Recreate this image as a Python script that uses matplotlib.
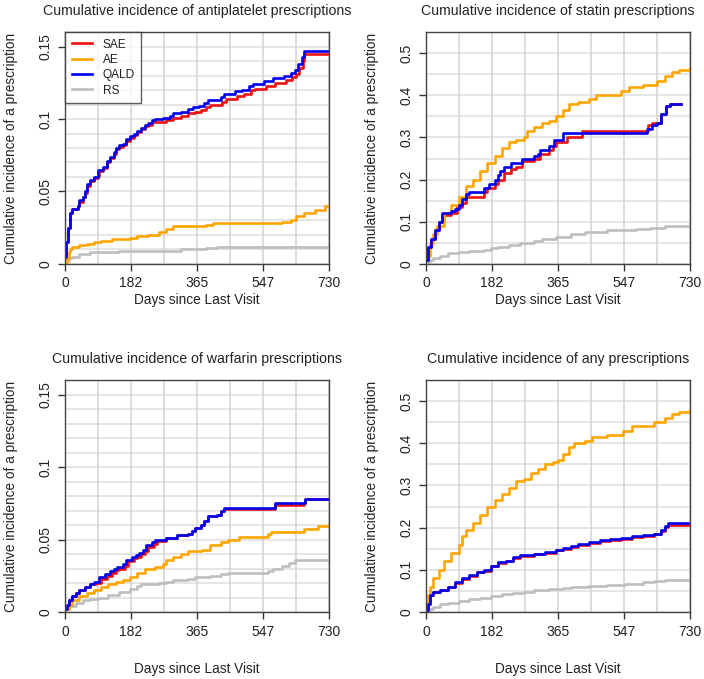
import numpy as np
import matplotlib.pyplot as plt

plt.rcParams['font.family'] = ['Liberation Sans', 'DejaVu Sans']

groups = ['SAE', 'AE', 'QALD', 'RS']
colors = {'SAE': '#ee1111', 'AE': '#ffa500', 'QALD': '#0000ee', 'RS': '#bebebe'}
xticks = [0, 182, 365, 547, 730]

# antiplatelet
ap_qald_t = [0, 3, 8, 14, 20, 35, 40, 50, 55, 62, 70, 80, 90, 92, 105, 115, 125, 135, 140, 150, 160, 170,
             180, 190, 200, 210, 220, 230, 240, 250, 270, 290, 300, 320, 340, 355, 370, 385, 395, 430, 440,
             470, 490, 510, 520, 550, 575, 605, 625, 635, 645, 655, 660, 730]
ap_qald_v = [0.005, 0.015, 0.025, 0.035, 0.038, 0.040, 0.044, 0.046, 0.050, 0.055, 0.058, 0.060, 0.062, 0.065,
             0.067, 0.071, 0.074, 0.077, 0.080, 0.082, 0.083, 0.086, 0.088, 0.090, 0.092, 0.094, 0.096, 0.097,
             0.099, 0.100, 0.101, 0.102, 0.104, 0.105, 0.107, 0.108, 0.109, 0.111, 0.113, 0.115, 0.117, 0.119,
             0.120, 0.123, 0.124, 0.126, 0.128, 0.130, 0.132, 0.134, 0.138, 0.143, 0.147, 0.147]
ap_sae_t = [0, 3, 8, 14, 20, 35, 40, 50, 55, 62, 70, 80, 90, 95, 105, 115, 125, 135, 140, 150, 160, 170,
            180, 190, 200, 210, 220, 230, 240, 280, 300, 320, 340, 360, 375, 390, 400, 435, 445, 475, 495,
            515, 525, 555, 580, 610, 628, 638, 648, 658, 662, 730]
ap_sae_v = [0.005, 0.015, 0.025, 0.035, 0.038, 0.040, 0.043, 0.046, 0.049, 0.054, 0.057, 0.059, 0.061, 0.064,
            0.066, 0.070, 0.073, 0.076, 0.079, 0.081, 0.082, 0.085, 0.087, 0.089, 0.091, 0.093, 0.095, 0.096,
            0.098, 0.099, 0.101, 0.102, 0.104, 0.105, 0.106, 0.108, 0.110, 0.112, 0.114, 0.116, 0.117,
            0.120, 0.121, 0.123, 0.125, 0.127, 0.129, 0.131, 0.135, 0.140, 0.145, 0.145]
ap_ae_t = [0, 5, 10, 15, 20, 40, 60, 80, 100, 130, 180, 200, 230, 260, 280, 300, 390, 410, 600, 625, 640,
           660, 690, 720, 730]
ap_ae_v = [0.0, 0.004, 0.008, 0.010, 0.012, 0.013, 0.014, 0.015, 0.016, 0.017, 0.018, 0.019, 0.020, 0.022,
           0.024, 0.026, 0.027, 0.028, 0.029, 0.030, 0.033, 0.035, 0.037, 0.040, 0.040]
ap_rs_t = [0, 5, 10, 20, 40, 70, 150, 280, 320, 390, 420, 730]
ap_rs_v = [0.0, 0.002, 0.004, 0.005, 0.007, 0.008, 0.009, 0.009, 0.010, 0.011, 0.012, 0.012]

# statin
st_qald_t = [0, 5, 15, 25, 35, 45, 60, 70, 80, 90, 100, 110, 120, 160, 175, 190, 200, 205, 215, 235, 265,
             300, 310, 315, 340, 355, 380, 600, 610, 625, 640, 650, 665, 675, 705]
st_qald_v = [0.01, 0.04, 0.06, 0.08, 0.10, 0.12, 0.12, 0.125, 0.13, 0.14, 0.155, 0.165, 0.17, 0.18, 0.19,
             0.20, 0.21, 0.22, 0.23, 0.24, 0.25, 0.255, 0.26, 0.27, 0.28, 0.295, 0.31, 0.31, 0.32, 0.33,
             0.335, 0.355, 0.375, 0.38, 0.38]
st_sae_t = [0, 5, 15, 25, 35, 45, 70, 85, 100, 110, 160, 170, 190, 200, 215, 235, 250, 265, 300, 315, 340,
            350, 360, 390, 430, 600, 615, 625, 640, 650, 665, 675, 705]
st_sae_v = [0.01, 0.04, 0.06, 0.08, 0.10, 0.115, 0.12, 0.135, 0.145, 0.16, 0.17, 0.18, 0.19, 0.20, 0.215,
            0.225, 0.23, 0.245, 0.25, 0.26, 0.27, 0.28, 0.29, 0.30, 0.315, 0.315, 0.33, 0.335, 0.335,
            0.355, 0.375, 0.38, 0.38]
st_ae_t = [0, 10, 20, 30, 50, 70, 90, 110, 130, 150, 170, 190, 210, 230, 250, 270, 280, 300, 320, 340, 360,
           380, 395, 420, 450, 470, 500, 540, 560, 600, 620, 640, 660, 680, 700, 730]
st_ae_v = [0.02, 0.05, 0.07, 0.09, 0.12, 0.14, 0.16, 0.185, 0.20, 0.22, 0.24, 0.255, 0.275, 0.29, 0.295,
           0.30, 0.315, 0.325, 0.335, 0.34, 0.35, 0.365, 0.38, 0.385, 0.39, 0.40, 0.40, 0.41, 0.42, 0.425,
           0.425, 0.435, 0.445, 0.455, 0.46, 0.465]
st_rs_t = [0, 10, 20, 40, 60, 90, 120, 160, 180, 200, 230, 260, 300, 320, 360, 400, 440, 500, 580, 620, 660,
           730]
st_rs_v = [0.005, 0.01, 0.015, 0.02, 0.025, 0.028, 0.03, 0.033, 0.038, 0.04, 0.045, 0.05, 0.055, 0.06,
           0.065, 0.07, 0.075, 0.08, 0.082, 0.085, 0.09, 0.092]

# warfarin
wf_qald_t = [0, 5, 10, 20, 30, 40, 55, 70, 80, 95, 110, 125, 135, 145, 160, 170, 185, 195, 205, 215, 225,
             240, 250, 280, 310, 340, 350, 360, 375, 385, 395, 420, 430, 440, 570, 580, 660, 665, 730]
wf_qald_v = [0.002, 0.005, 0.008, 0.011, 0.013, 0.015, 0.017, 0.019, 0.021, 0.024, 0.026, 0.028, 0.030,
             0.031, 0.033, 0.036, 0.038, 0.039, 0.041, 0.043, 0.046, 0.048, 0.050, 0.051, 0.053, 0.054,
             0.056, 0.058, 0.060, 0.063, 0.066, 0.067, 0.070, 0.072, 0.072, 0.075, 0.075, 0.078, 0.078]
wf_sae_t = [0, 5, 10, 20, 30, 40, 55, 70, 85, 100, 115, 130, 140, 150, 165, 175, 190, 200, 210, 220, 230,
            245, 255, 280, 310, 340, 350, 360, 375, 385, 395, 420, 430, 440, 570, 580, 660, 665, 730]
wf_sae_v = [0.002, 0.005, 0.008, 0.011, 0.013, 0.015, 0.017, 0.019, 0.020, 0.023, 0.025, 0.027, 0.029,
            0.030, 0.032, 0.035, 0.037, 0.038, 0.040, 0.042, 0.045, 0.047, 0.049, 0.051, 0.053, 0.054,
            0.056, 0.058, 0.060, 0.063, 0.066, 0.067, 0.070, 0.071, 0.071, 0.074, 0.075, 0.078, 0.078]
wf_ae_t = [0, 10, 20, 40, 60, 80, 100, 120, 140, 160, 180, 200, 220, 250, 270, 280, 300, 320, 340, 380, 400,
           430, 450, 480, 560, 570, 640, 660, 700, 730]
wf_ae_v = [0.002, 0.005, 0.008, 0.011, 0.013, 0.015, 0.017, 0.019, 0.021, 0.022, 0.024, 0.027, 0.030,
           0.031, 0.033, 0.036, 0.038, 0.040, 0.042, 0.043, 0.046, 0.048, 0.050, 0.052, 0.054, 0.055,
           0.055, 0.057, 0.059, 0.060]
wf_rs_t = [0, 10, 30, 50, 70, 90, 120, 150, 180, 200, 210, 260, 280, 300, 340, 360, 400, 430, 450, 560, 575,
           600, 620, 635, 730]
wf_rs_v = [0.002, 0.004, 0.006, 0.008, 0.009, 0.010, 0.012, 0.014, 0.016, 0.018, 0.019, 0.020, 0.021,
           0.022, 0.023, 0.024, 0.025, 0.026, 0.027, 0.028, 0.030, 0.032, 0.034, 0.036, 0.036]

# any
an_qald_t = [0, 5, 10, 20, 40, 60, 80, 100, 120, 140, 160, 180, 200, 220, 240, 260, 300, 330, 360, 380, 400,
             420, 450, 480, 510, 540, 570, 600, 630, 650, 660, 670, 730]
an_qald_v = [0.005, 0.02, 0.04, 0.048, 0.053, 0.06, 0.07, 0.08, 0.087, 0.096, 0.10, 0.11, 0.118, 0.122,
             0.13, 0.135, 0.138, 0.142, 0.148, 0.152, 0.156, 0.162, 0.166, 0.170, 0.173, 0.176, 0.180,
             0.182, 0.186, 0.195, 0.205, 0.21, 0.21]
an_sae_t = [0, 5, 10, 20, 40, 60, 80, 100, 120, 140, 160, 180, 200, 220, 240, 260, 300, 330, 360, 380, 400,
            420, 450, 480, 510, 540, 570, 600, 630, 650, 660, 670, 730]
an_sae_v = [0.005, 0.02, 0.04, 0.047, 0.052, 0.059, 0.068, 0.078, 0.085, 0.094, 0.098, 0.108, 0.116, 0.12,
            0.128, 0.133, 0.137, 0.141, 0.147, 0.150, 0.154, 0.160, 0.164, 0.168, 0.171, 0.174, 0.178,
            0.180, 0.184, 0.193, 0.202, 0.207, 0.207]
an_ae_t = [0, 5, 10, 20, 35, 50, 70, 90, 100, 110, 130, 150, 170, 190, 210, 230, 250, 270, 290, 310, 330,
           350, 365, 380, 395, 410, 440, 460, 500, 530, 545, 570, 610, 630, 660, 680, 700, 730]
an_ae_v = [0.02, 0.04, 0.06, 0.08, 0.10, 0.12, 0.14, 0.16, 0.18, 0.195, 0.21, 0.23, 0.25, 0.265, 0.28,
           0.295, 0.31, 0.315, 0.33, 0.34, 0.35, 0.355, 0.36, 0.375, 0.39, 0.40, 0.405, 0.415, 0.42,
           0.42, 0.43, 0.44, 0.44, 0.45, 0.46, 0.47, 0.475, 0.48]
an_rs_t = [0, 10, 20, 40, 60, 90, 120, 150, 180, 210, 240, 270, 300, 340, 380, 400, 450, 500, 550, 600, 630,
           660, 730]
an_rs_v = [0.003, 0.008, 0.012, 0.018, 0.022, 0.027, 0.030, 0.033, 0.037, 0.042, 0.046, 0.048, 0.051,
           0.054, 0.056, 0.060, 0.062, 0.064, 0.067, 0.070, 0.074, 0.077, 0.079]

panels = [
    ('Cumulative incidence of antiplatelet prescriptions', 0.16, 0.01, [0, 0.05, 0.1, 0.15],
     ['0', '0.05', '0.1', '0.15'],
     {'SAE': (ap_sae_t, ap_sae_v), 'AE': (ap_ae_t, ap_ae_v), 'QALD': (ap_qald_t, ap_qald_v),
      'RS': (ap_rs_t, ap_rs_v)}),
    ('Cumulative incidence of statin prescriptions', 0.55, 0.05, [0, 0.1, 0.2, 0.3, 0.4, 0.5],
     ['0', '0.1', '0.2', '0.3', '0.4', '0.5'],
     {'SAE': (st_sae_t, st_sae_v), 'AE': (st_ae_t, st_ae_v), 'QALD': (st_qald_t, st_qald_v),
      'RS': (st_rs_t, st_rs_v)}),
    ('Cumulative incidence of warfarin prescriptions', 0.16, 0.01, [0, 0.05, 0.1, 0.15],
     ['0', '0.05', '0.1', '0.15'],
     {'SAE': (wf_sae_t, wf_sae_v), 'AE': (wf_ae_t, wf_ae_v), 'QALD': (wf_qald_t, wf_qald_v),
      'RS': (wf_rs_t, wf_rs_v)}),
    ('Cumulative incidence of any prescriptions', 0.55, 0.05, [0, 0.1, 0.2, 0.3, 0.4, 0.5],
     ['0', '0.1', '0.2', '0.3', '0.4', '0.5'],
     {'SAE': (an_sae_t, an_sae_v), 'AE': (an_ae_t, an_ae_v), 'QALD': (an_qald_t, an_qald_v),
      'RS': (an_rs_t, an_rs_v)}),
]

fig = plt.figure(figsize=(7.04, 6.79), dpi=100)
lefts = [65 / 704, 426 / 704]
bottoms = [(679 - 264) / 679, (679 - 612) / 679]
w, h = 264 / 704, 232 / 679

for i, (title, ytop, gstep, yt, ytl, series) in enumerate(panels):
    row = i // 2
    ax = fig.add_axes([lefts[i % 2], bottoms[row], w, h])
    for g in np.arange(0, ytop + 1e-9, gstep):
        ax.axhline(g, color='#dedede', lw=1.1, zorder=0)
    for g in np.arange(0, 731, 730 / 8):
        ax.axvline(g, color='#d2d2d2', lw=1.1, zorder=0)
    for grp in ['RS', 'SAE', 'AE', 'QALD']:
        t, v = series[grp]
        ax.plot(t, v, drawstyle='steps-post', color=colors[grp], lw=1.9, label=grp)
    ax.set_xlim(0, 730)
    ax.set_ylim(0, ytop)
    ax.set_xticks(xticks)
    ax.set_yticks(yt)
    ax.set_yticklabels(ytl, rotation=90, va='center')
    ax.tick_params(length=5, width=1, labelsize=10, color='#333333', labelcolor='#222222', pad=4)
    for s in ax.spines.values():
        s.set_color('#444444')
        s.set_linewidth(1)
    ax.set_title(title, fontsize=10.2, pad=12.5 if row == 0 else 12, color='#222222')
    ax.set_xlabel('Days since Last Visit', fontsize=9.8, labelpad=1.5 if row == 0 else 17,
                  color='#222222')
    ax.set_ylabel('Cumulative incidence of a prescription', fontsize=9.8, labelpad=15, color='#222222')
    if i == 0:
        handles, labels = ax.get_legend_handles_labels()
        order = [labels.index(g) for g in groups]
        leg = ax.legend([handles[k] for k in order], groups, loc='upper left', fontsize=8.6,
                        frameon=True, fancybox=False, edgecolor='#333333', borderaxespad=0,
                        handlelength=1.7, borderpad=0.55, labelspacing=0.28, handletextpad=0.9)
        leg.get_frame().set_linewidth(1)
        for t in leg.get_texts():
            t.set_color('#222222')

fig.savefig('out.png', dpi=100)
